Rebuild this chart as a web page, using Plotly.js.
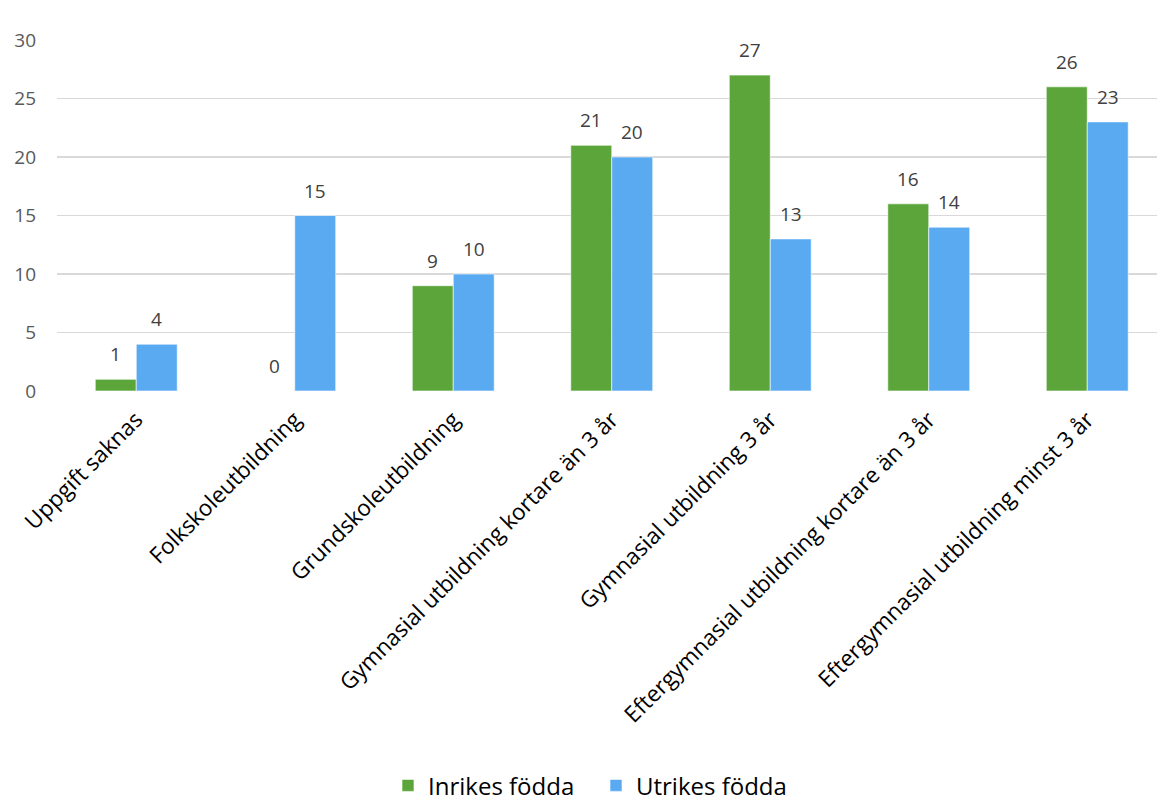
<!DOCTYPE html>
<html>
<head>
<meta charset="utf-8">
<script src="https://cdn.plot.ly/plotly-3.0.1.min.js"></script>
<style>html,body{margin:0;padding:0;background:#fff;}#chart{width:1157px;height:801px;}</style>
</head>
<body>
<div id="chart"></div>
<script>
const categories = [
  "Uppgift saknas",
  "Folkskoleutbildning",
  "Grundskoleutbildning",
  "Gymnasial utbildning kortare än 3 år",
  "Gymnasial utbildning 3 år",
  "Eftergymnasial utbildning kortare än 3 år",
  "Eftergymnasial utbildning minst 3 år"
];
const inrikes = [1, 0, 9, 21, 27, 16, 26];
const utrikes = [4, 15, 10, 20, 13, 14, 23];
const seriesNames = ["Inrikes födda", "Utrikes födda"];
const colors = ["#5BA53B", "#5AAAF2"];
const yTicks = [0, 5, 10, 15, 20, 25, 30];

const FONT = "'Segoe UI', 'Open Sans', sans-serif";

const traces = [inrikes, utrikes].map((vals, i) => ({
  type: "bar",
  name: seriesNames[i],
  x: categories,
  y: vals,
  marker: {color: colors[i], line: {color: "rgba(255,255,255,0.6)", width: 1}},
  hoverinfo: "none"
}));

const annotations = [];
[inrikes, utrikes].forEach((vals, i) => {
  vals.forEach((v, j) => {
    annotations.push({
      x: categories[j], y: v, xref: "x", yref: "y",
      text: String(v), showarrow: false,
      xanchor: "center", yanchor: "bottom",
      xshift: i === 0 ? -20.5 : 20.5, yshift: 10,
      font: {family: FONT, size: 19, color: "#404040"}
    });
  });
});

const layout = {
  width: 1157, height: 801,
  margin: {l: 57, r: 0, t: 40, b: 410},
  paper_bgcolor: "#fff", plot_bgcolor: "#fff",
  barmode: "group", bargap: 0.483, bargroupgap: 0,
  font: {family: FONT, color: "#404040"},
  xaxis: {
    type: "category",
    range: [-0.5, 6.44],
    tickangle: -45,
    tickfont: {family: FONT, size: 22.5, color: "#000"},
    showgrid: false, zeroline: false, showline: false, ticks: "",
    ticklabelstandoff: 10
  },
  yaxis: {
    range: [0, 30],
    tickvals: yTicks,
    tickfont: {family: FONT, size: 19, color: "#595959"},
    gridcolor: "#D9D9D9", gridwidth: 1.5,
    zeroline: false, showline: false, ticks: "",
    ticklabelstandoff: 20
  },
  showlegend: true,
  legend: {
    orientation: "h", xref: "paper", x: 0.49, xanchor: "center",
    yref: "container", y: 0.019, yanchor: "middle",
    font: {family: FONT, size: 24, color: "#000"},
    itemwidth: 30, traceorder: "normal",
    entrywidth: 163, entrywidthmode: "pixels"
  },
  annotations: annotations
};

Plotly.newPlot("chart", traces, layout, {displayModeBar: false, staticPlot: true});
</script>
</body>
</html>
